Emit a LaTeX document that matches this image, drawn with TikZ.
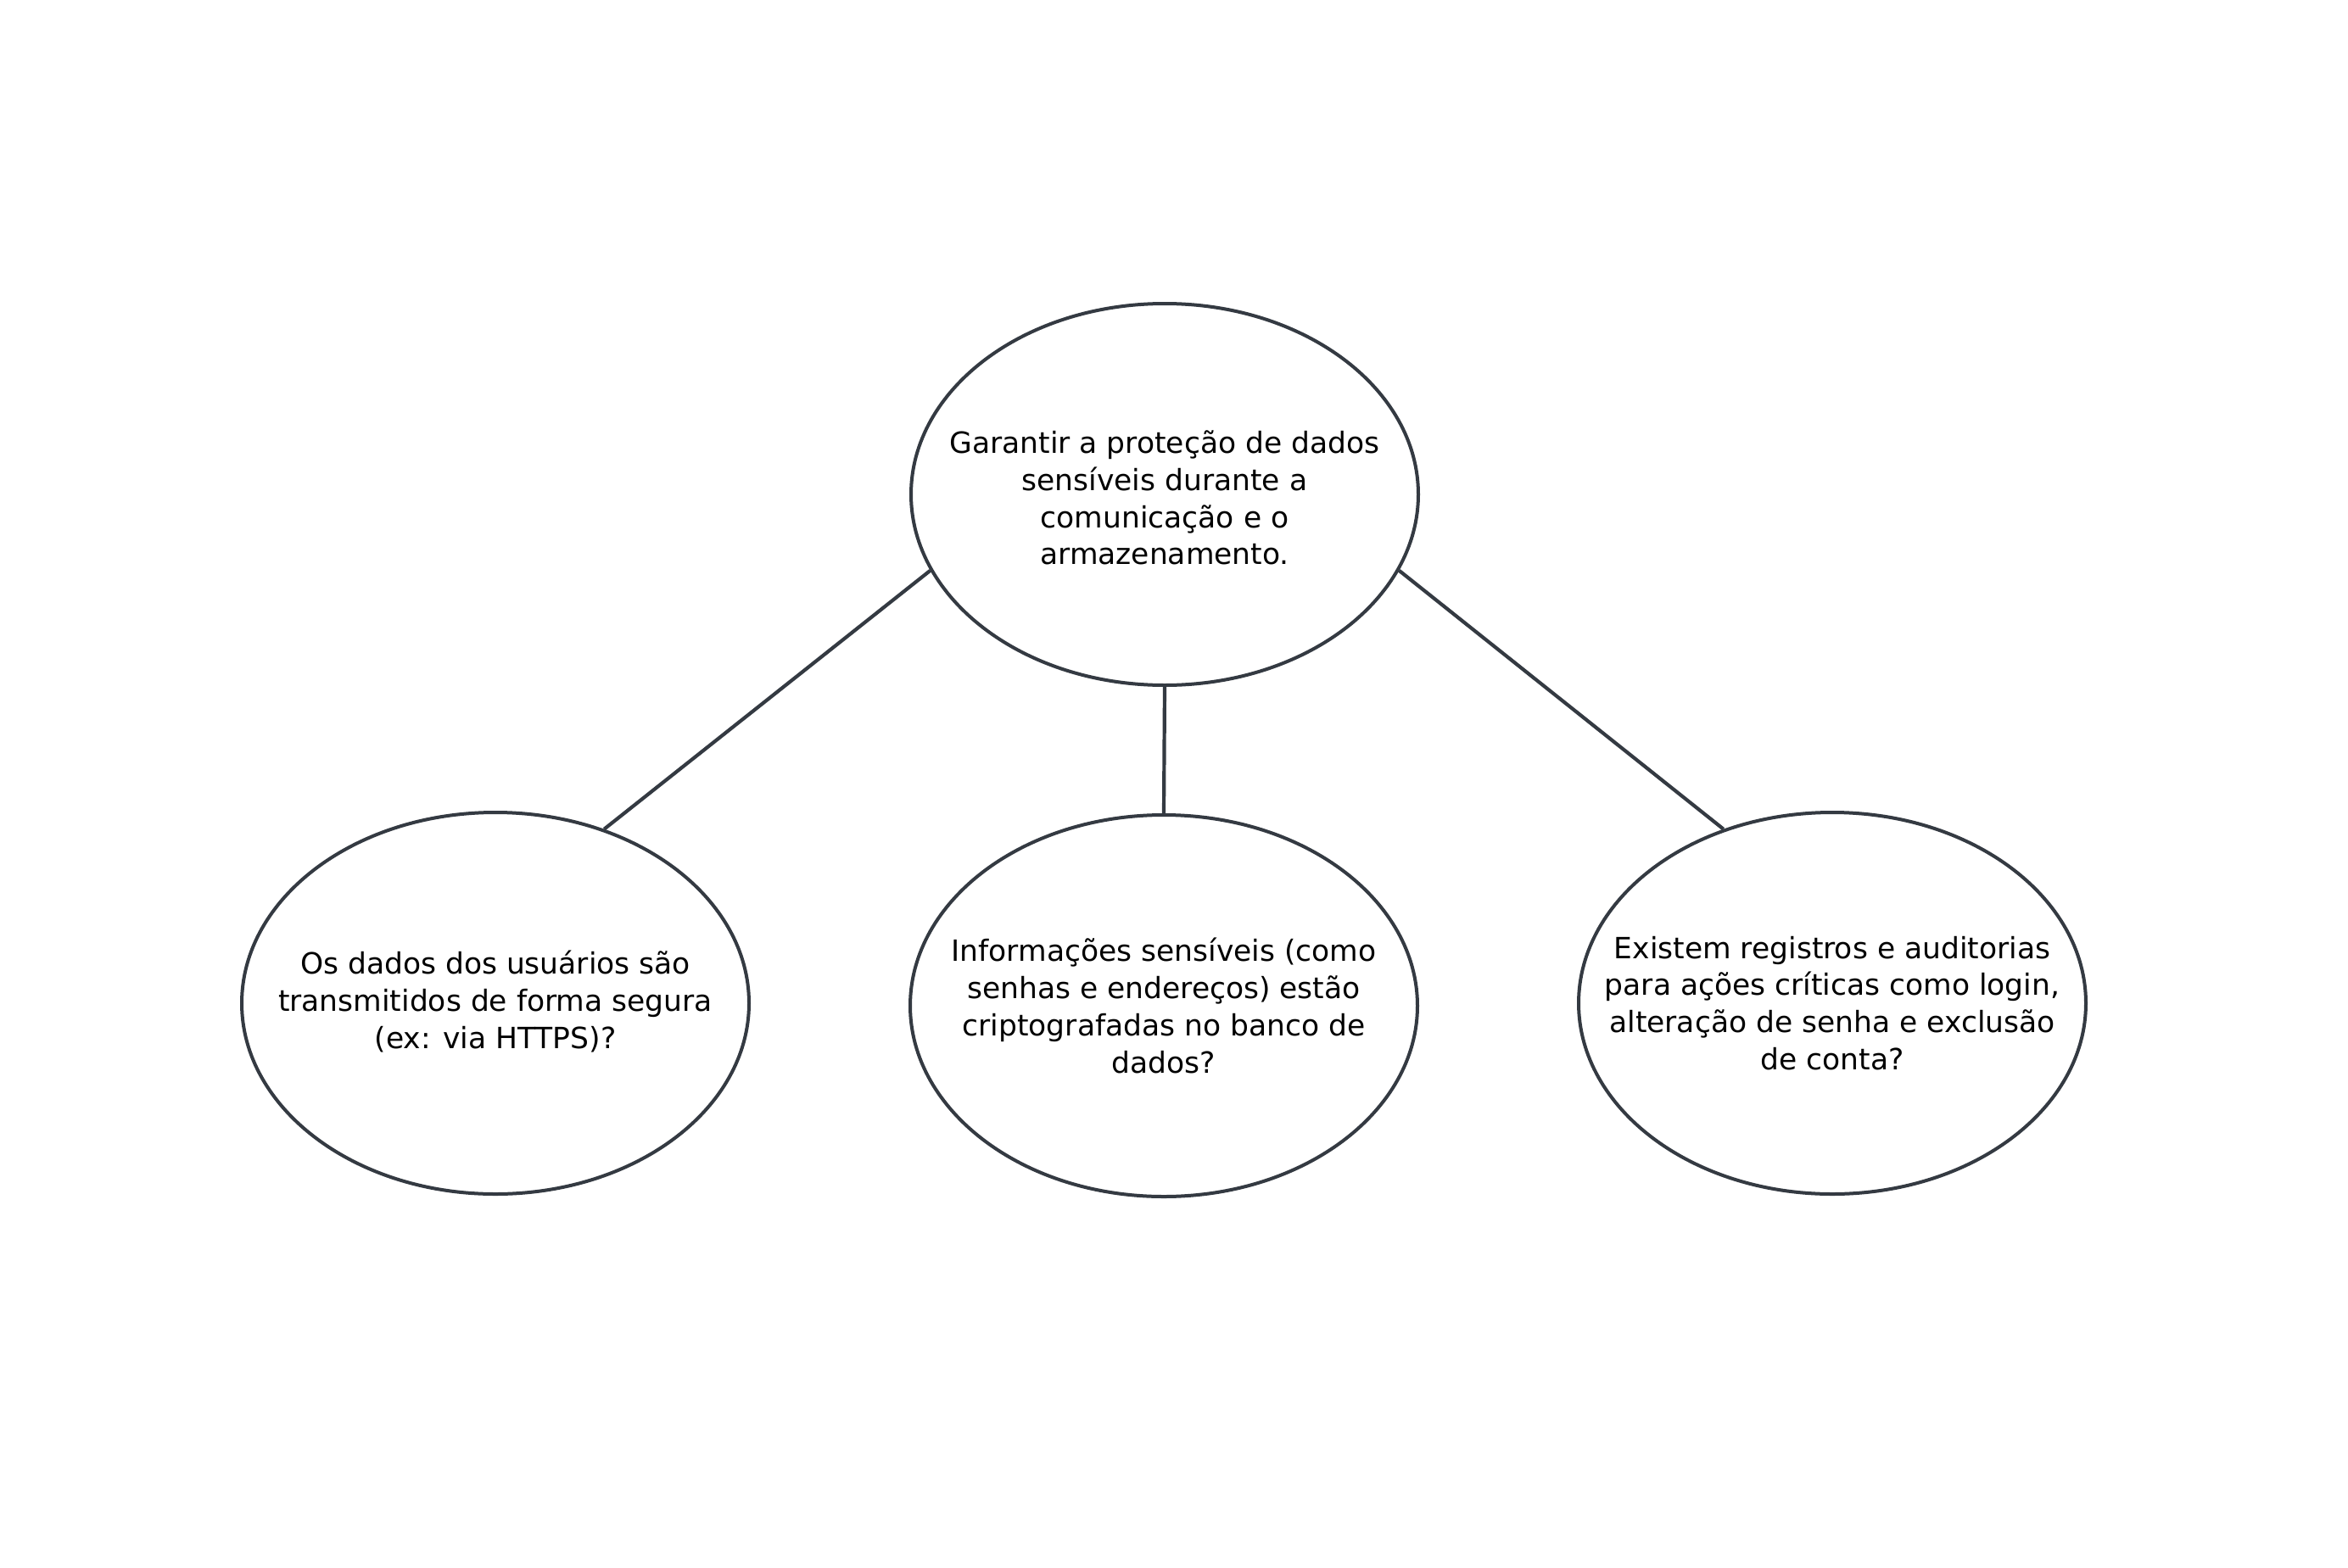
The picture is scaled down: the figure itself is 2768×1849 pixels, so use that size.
\documentclass[tikz,border=0pt]{standalone}
\usepackage{fontspec}
\setmainfont{DejaVu Sans}
\usetikzlibrary{shapes.geometric}
\definecolor{edgecol}{RGB}{52,58,66}
\tikzset{
  bubble/.style={ellipse, draw=edgecol, line width=4pt, minimum width=598pt, minimum height=450pt, inner sep=0pt},
  btext/.style={align=center, font=\fontsize{34.5}{43.8}\selectfont, text=black},
  link/.style={draw=edgecol, line width=4.2pt}
}
\begin{document}
\begin{tikzpicture}[x=1pt,y=-1pt]
\useasboundingbox (0,0) rectangle (2768,1849);
\fill[white] (0,0) rectangle (2768,1849);
\node[bubble, label={[btext, yshift=-4pt]center:Garantir a proteção de dados\\sensíveis durante a\\comunicação e o\\armazenamento.}] (top) at (1373,583) {};
\node[bubble, label={[btext, yshift=2pt]center:Os dados dos usuários são\\transmitidos de forma segura\\(ex: via HTTPS)?}] (left) at (584,1183) {};
\node[bubble, label={[btext]center:Informações sensíveis (como\\senhas e endereços) estão\\criptografadas no banco de\\dados?}] (mid) at (1372,1186) {};
\node[bubble, label={[btext]center:Existem registros e auditorias\\para ações críticas como login,\\alteração de senha e exclusão\\de conta?}] (right) at (2160,1183) {};
\draw[link] (top.198) -- (left.58.7);
\draw[link] (top.south) -- (mid.north);
\draw[link] (top.342.4) -- (right.122.7);
\end{tikzpicture}
\end{document}
